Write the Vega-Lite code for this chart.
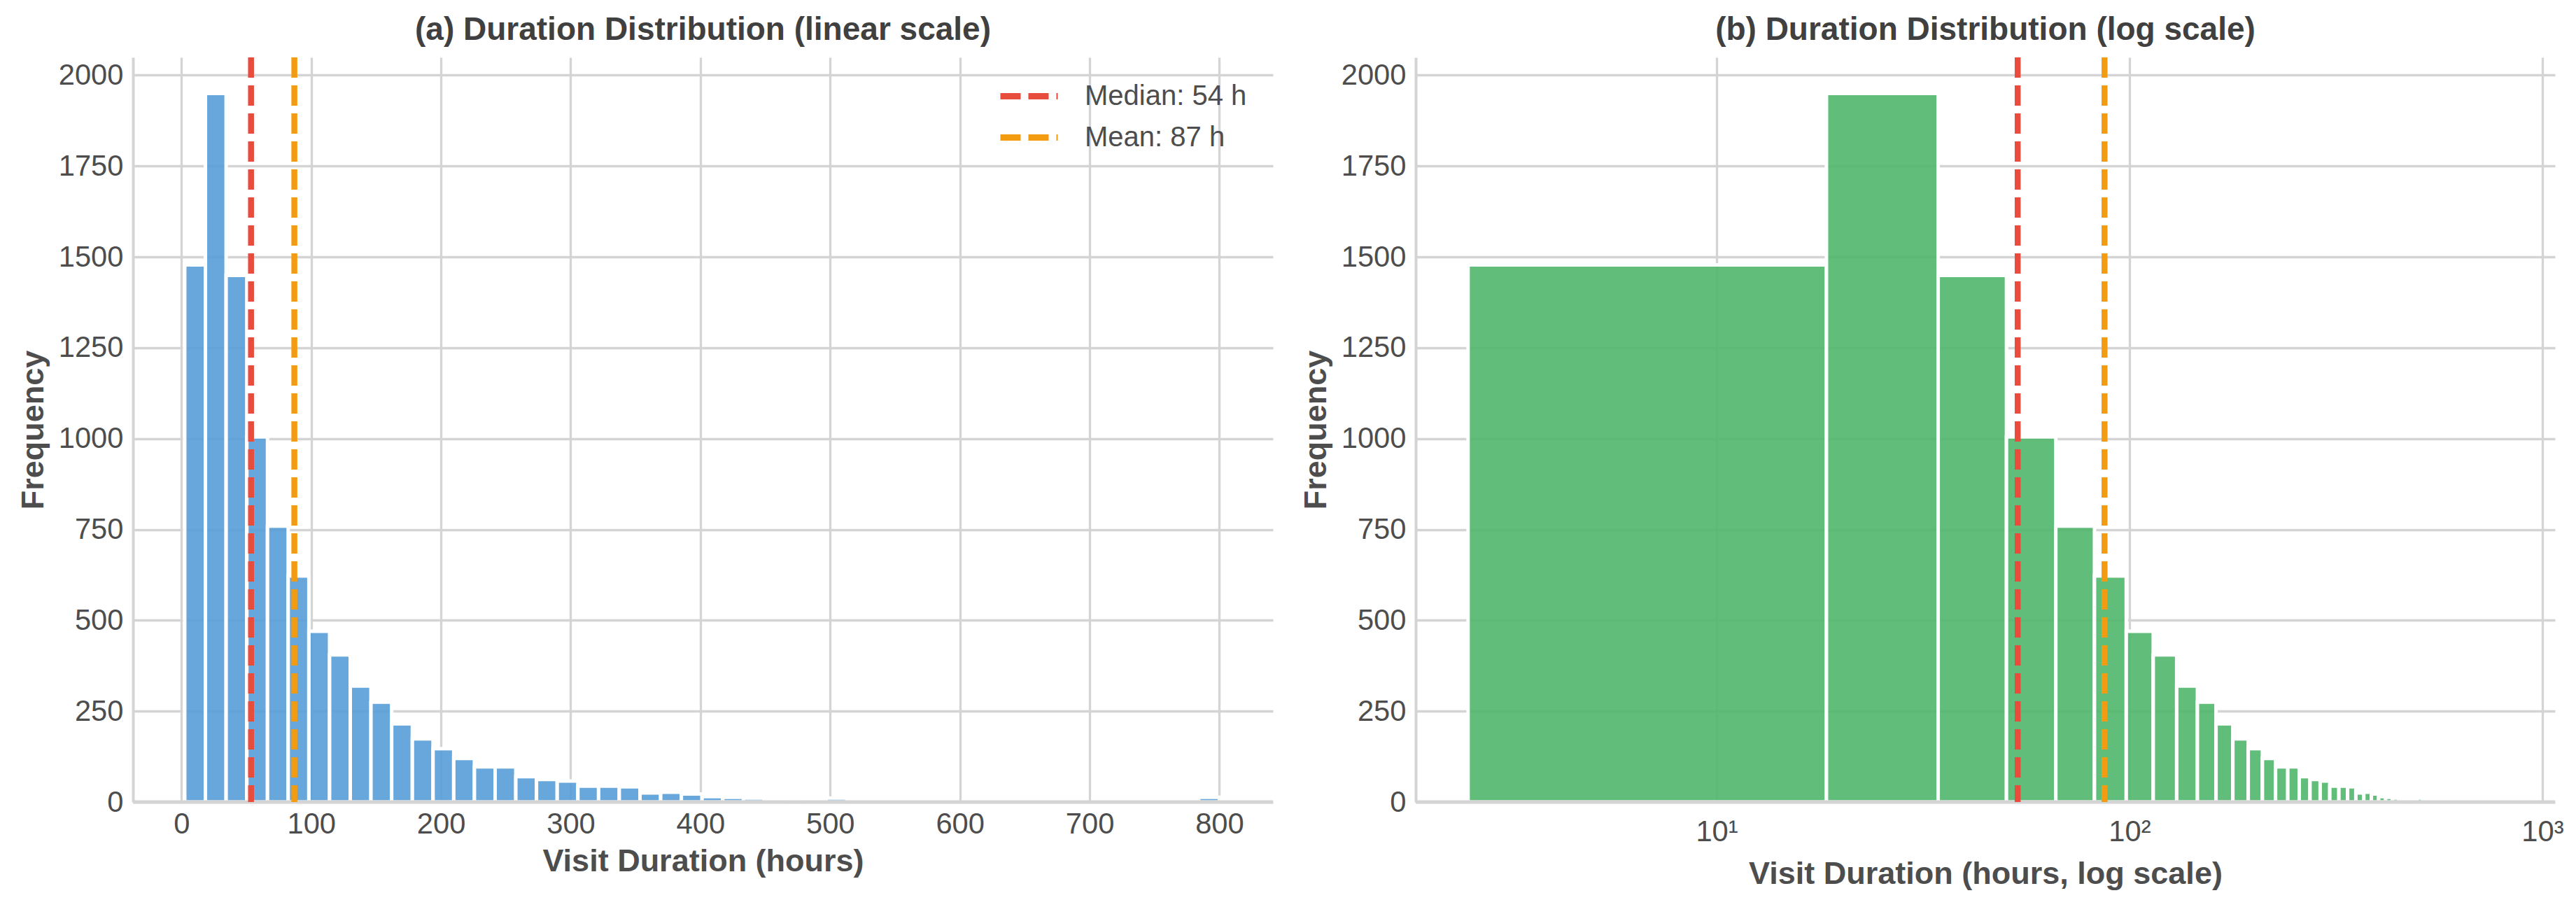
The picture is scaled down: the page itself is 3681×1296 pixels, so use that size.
{
  "$schema": "https://vega.github.io/schema/vega-lite/v6.json",
  "description": "Visit duration histograms, linear and log x scale",
  "background": "white",
  "padding": {"left": 25, "top": 19, "right": 0, "bottom": 0},
  "spacing": 36,
  "resolve": {"scale": {"color": "independent"}, "legend": {"color": "independent"}},
  "config": {
    "font": "Liberation Sans",
    "view": {"stroke": null},
    "axis": {
      "labelFont": "Liberation Sans",
      "labelFontSize": 41.7,
      "labelColor": "#4d4d4d",
      "titleFont": "Liberation Sans",
      "titleFontSize": 45,
      "titleFontWeight": "bold",
      "titleColor": "#4d4d4d",
      "ticks": false,
      "tickSize": 0,
      "grid": true,
      "gridColor": "#d4d4d4",
      "gridWidth": 3.3,
      "domainColor": "#d4d4d4",
      "domainWidth": 4,
      "labelFlush": false
    },
    "title": {
      "font": "Liberation Sans",
      "fontSize": 46,
      "fontWeight": "bold",
      "color": "#404040",
      "anchor": "middle",
      "baseline": "alphabetic",
      "offset": 11
    }
  },
  "datasets": {
    "linear": [
      {"start": 2.5, "end": 18.45, "count": 1478},
      {"start": 18.45, "end": 34.4, "count": 1950},
      {"start": 34.4, "end": 50.35, "count": 1449},
      {"start": 50.35, "end": 66.3, "count": 1005},
      {"start": 66.3, "end": 82.25, "count": 759},
      {"start": 82.25, "end": 98.2, "count": 622},
      {"start": 98.2, "end": 114.15, "count": 470},
      {"start": 114.15, "end": 130.1, "count": 405},
      {"start": 130.1, "end": 146.05, "count": 319},
      {"start": 146.05, "end": 162, "count": 275},
      {"start": 162, "end": 177.95, "count": 215},
      {"start": 177.95, "end": 193.9, "count": 174},
      {"start": 193.9, "end": 209.85, "count": 147},
      {"start": 209.85, "end": 225.8, "count": 120},
      {"start": 225.8, "end": 241.75, "count": 97},
      {"start": 241.75, "end": 257.7, "count": 97},
      {"start": 257.7, "end": 273.65, "count": 70},
      {"start": 273.65, "end": 289.6, "count": 62},
      {"start": 289.6, "end": 305.55, "count": 58},
      {"start": 305.55, "end": 321.5, "count": 44},
      {"start": 321.5, "end": 337.45, "count": 44},
      {"start": 337.45, "end": 353.4, "count": 42},
      {"start": 353.4, "end": 369.35, "count": 25},
      {"start": 369.35, "end": 385.3, "count": 27},
      {"start": 385.3, "end": 401.25, "count": 22},
      {"start": 401.25, "end": 417.2, "count": 15},
      {"start": 417.2, "end": 433.15, "count": 13},
      {"start": 433.15, "end": 449.1, "count": 11},
      {"start": 449.1, "end": 465.05, "count": 7},
      {"start": 481, "end": 496.95, "count": 9},
      {"start": 496.95, "end": 512.9, "count": 11},
      {"start": 784.05, "end": 800, "count": 13}
    ],
    "log": [
      {"start": 2.5, "end": 18.45, "count": 1478},
      {"start": 18.45, "end": 34.4, "count": 1950},
      {"start": 34.4, "end": 50.35, "count": 1449},
      {"start": 50.35, "end": 66.3, "count": 1005},
      {"start": 66.3, "end": 82.25, "count": 759},
      {"start": 82.25, "end": 98.2, "count": 622},
      {"start": 98.2, "end": 114.15, "count": 470},
      {"start": 114.15, "end": 130.1, "count": 405},
      {"start": 130.1, "end": 146.05, "count": 319},
      {"start": 146.05, "end": 162, "count": 275},
      {"start": 162, "end": 177.95, "count": 215},
      {"start": 177.95, "end": 193.9, "count": 174},
      {"start": 193.9, "end": 209.85, "count": 147},
      {"start": 209.85, "end": 225.8, "count": 120},
      {"start": 225.8, "end": 241.75, "count": 97},
      {"start": 241.75, "end": 257.7, "count": 97},
      {"start": 257.7, "end": 273.65, "count": 70},
      {"start": 273.65, "end": 289.6, "count": 62},
      {"start": 289.6, "end": 305.55, "count": 58},
      {"start": 305.55, "end": 321.5, "count": 44},
      {"start": 321.5, "end": 337.45, "count": 44},
      {"start": 337.45, "end": 353.4, "count": 42},
      {"start": 353.4, "end": 369.35, "count": 25},
      {"start": 369.35, "end": 385.3, "count": 27},
      {"start": 385.3, "end": 401.25, "count": 22},
      {"start": 401.25, "end": 417.2, "count": 15},
      {"start": 417.2, "end": 433.15, "count": 13},
      {"start": 433.15, "end": 449.1, "count": 11},
      {"start": 449.1, "end": 465.05, "count": 7},
      {"start": 481, "end": 496.95, "count": 9},
      {"start": 496.95, "end": 512.9, "count": 11}
    ],
    "stats": [
      {"label": "Median: 54 h", "value": 53.6},
      {"label": "Mean: 87 h", "value": 87.0}
    ]
  },
  "hconcat": [
    {
      "width": 1629,
      "height": 1064,
      "title": {"text": "(a) Duration Distribution (linear scale)"},
      "layer": [
        {
          "data": {"name": "linear"},
          "mark": {"type": "rect", "fill": "#569DD7", "fillOpacity": 0.9, "stroke": "white", "strokeWidth": 5},
          "encoding": {
            "x": {
              "field": "start",
              "type": "quantitative",
              "title": "Visit Duration (hours)",
              "scale": {"domain": [-37.4, 841.3], "nice": false, "zero": false},
              "axis": {"values": [0, 100, 200, 300, 400, 500, 600, 700, 800], "domain": false, "labelPadding": 11, "titlePadding": 10}
            },
            "x2": {"field": "end"},
            "y": {
              "field": "count",
              "type": "quantitative",
              "title": "Frequency",
              "scale": {"domain": [0, 2049], "nice": false},
              "axis": {"values": [0, 250, 500, 750, 1000, 1250, 1500, 1750, 2000], "format": "d", "labelPadding": 14, "titlePadding": 13}
            },
            "y2": {"datum": 0}
          }
        },
        {
          "data": {"values": [{}]},
          "mark": {"type": "rule", "color": "#d4d4d4", "strokeWidth": 5},
          "encoding": {"y": {"datum": 0, "type": "quantitative"}}
        },
        {
          "data": {"name": "stats"},
          "mark": {"type": "rule", "strokeWidth": 8.5, "strokeDash": [29, 11]},
          "encoding": {
            "x": {"field": "value", "type": "quantitative", "title": "Visit Duration (hours)"},
            "color": {
              "field": "label",
              "type": "nominal",
              "sort": ["Median: 54 h", "Mean: 87 h"],
              "scale": {"domain": ["Median: 54 h", "Mean: 87 h"], "range": ["#e74c3c", "#f39c12"]},
              "legend": {
                "orient": "none",
                "legendX": 1256,
                "legendY": 31,
                "title": null,
                "symbolType": "M-2.05,0H2.05",
                "symbolSize": 1600,
                "symbolStrokeWidth": 9,
                "symbolDash": [29, 11],
                "labelFont": "Liberation Sans",
                "labelFontSize": 40,
                "labelColor": "#4d4d4d",
                "labelLimit": 0,
                "labelOffset": 55,
                "rowPadding": 14,
                "padding": 0
              }
            }
          }
        }
      ]
    },
    {
      "width": 1628,
      "height": 1064,
      "title": {"text": "(b) Duration Distribution (log scale)"},
      "layer": [
        {
          "data": {"name": "log"},
          "mark": {"type": "rect", "fill": "#50B66C", "fillOpacity": 0.9, "stroke": "white", "strokeWidth": 5},
          "encoding": {
            "x": {
              "field": "start",
              "type": "quantitative",
              "title": "Visit Duration (hours, log scale)",
              "scale": {"type": "log", "domain": [1.867, 1073], "nice": false},
              "axis": {
                "values": [10, 100, 1000],
                "labelExpr": "datum.value == 10 ? '10¹' : datum.value == 100 ? '10²' : '10³'",
                "domain": false,
                "labelPadding": 22,
                "titlePadding": 17
              }
            },
            "x2": {"field": "end"},
            "y": {
              "field": "count",
              "type": "quantitative",
              "title": "Frequency",
              "scale": {"domain": [0, 2049], "nice": false},
              "axis": {"values": [0, 250, 500, 750, 1000, 1250, 1500, 1750, 2000], "format": "d", "labelPadding": 14, "titlePadding": 13}
            },
            "y2": {"datum": 0}
          }
        },
        {
          "data": {"values": [{}]},
          "mark": {"type": "rule", "color": "#d4d4d4", "strokeWidth": 5},
          "encoding": {"y": {"datum": 0, "type": "quantitative"}}
        },
        {
          "data": {"name": "stats"},
          "mark": {"type": "rule", "strokeWidth": 8.5, "strokeDash": [29, 11]},
          "encoding": {
            "x": {"field": "value", "type": "quantitative", "title": "Visit Duration (hours, log scale)"},
            "color": {
              "field": "label",
              "type": "nominal",
              "scale": {"domain": ["Median: 54 h", "Mean: 87 h"], "range": ["#e74c3c", "#f39c12"]},
              "legend": null
            }
          }
        }
      ]
    }
  ]
}
